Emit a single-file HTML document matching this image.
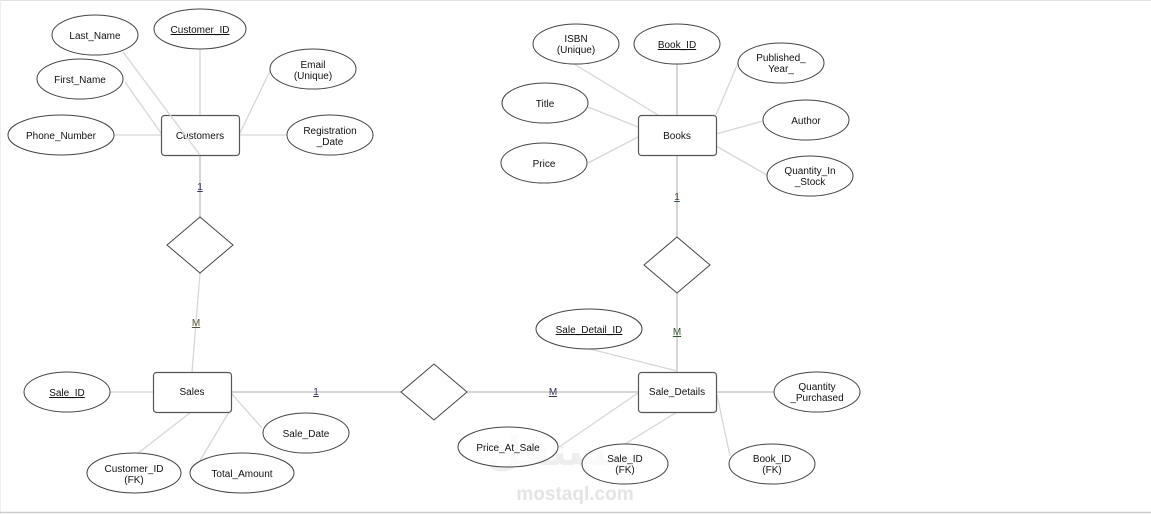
<!DOCTYPE html>
<html><head><meta charset="utf-8"><style>
html,body{margin:0;padding:0;background:#fff;width:1151px;height:514px;overflow:hidden}
svg{display:block}
text{font-family:"Liberation Sans","DejaVu Sans",sans-serif;font-size:10px;fill:#111;text-anchor:middle}
.l{stroke:#d6d6d6;stroke-width:1.3;fill:none}
.e{fill:#fff;stroke:#444;stroke-width:1}
.r{fill:#fff;stroke:#555;stroke-width:1.2}
.u{text-decoration:underline}
</style></head><body>
<svg width="1151" height="514" viewBox="0 0 1151 514">
<line x1="0" y1="0.5" x2="1151" y2="0.5" stroke="#e2e2e2"/>
<line x1="0.5" y1="0" x2="0.5" y2="514" stroke="#eee"/>
<line x1="0" y1="512.5" x2="1151" y2="512.5" stroke="#ccc" stroke-width="1.5"/>
<g class="l">
<line x1="125" y1="82" x2="161" y2="133"/>
<line x1="200" y1="49" x2="200" y2="115"/>
<line x1="270" y1="71" x2="240" y2="133"/>
<line x1="114" y1="135" x2="161" y2="135"/>
<line x1="240" y1="135" x2="287" y2="135"/>
<line x1="200" y1="155" x2="200" y2="217" stroke-width="2"/>
<line x1="200" y1="273" x2="192" y2="372"/>
<line x1="110" y1="392" x2="153" y2="392"/>
<line x1="137" y1="454" x2="191" y2="412"/>
<line x1="198" y1="464" x2="229" y2="412"/>
<line x1="231" y1="393" x2="262" y2="428"/>
<line x1="231" y1="392" x2="401" y2="392" stroke-width="2"/>
<line x1="467" y1="392" x2="638" y2="392" stroke-width="2"/>
<line x1="590" y1="349" x2="677" y2="371"/>
<line x1="716" y1="392" x2="774" y2="392" stroke-width="2"/>
<line x1="559" y1="447" x2="638" y2="393"/>
<line x1="625" y1="444" x2="677" y2="412"/>
<line x1="717" y1="395" x2="730" y2="456"/>
<line x1="677" y1="372" x2="677" y2="293" stroke-width="2"/>
<line x1="677" y1="237" x2="677" y2="155" stroke-width="2"/>
<line x1="574" y1="64" x2="658" y2="115"/>
<line x1="677" y1="64" x2="677" y2="115" stroke-width="2"/>
<line x1="738" y1="63" x2="716" y2="115"/>
<line x1="588" y1="107" x2="638" y2="127"/>
<line x1="763" y1="121" x2="716" y2="134"/>
<line x1="588" y1="163" x2="638" y2="137"/>
<line x1="767" y1="175" x2="716" y2="146"/>
</g>
<text x="200" y="190" class="u" style="fill:#335">1</text>
<text x="196" y="326" class="u" style="fill:#553">M</text>
<text x="316" y="395" class="u" style="fill:#335">1</text>
<text x="553" y="395" class="u" style="fill:#335">M</text>
<text x="677" y="335" class="u" style="fill:#353">M</text>
<text x="677" y="200" class="u" style="fill:#353">1</text>
<polygon class="e" points="167,245 200,217 233,245 200,273"/>
<polygon class="e" points="401,392 434,364 467,392 434,420"/>
<polygon class="e" points="644,265 677,237 710,265 677,293"/>
<rect class="r" x="161.5" y="115.5" width="78" height="40" rx="3"/><text x="200" y="139">Customers</text>
<line class="l" x1="123" y1="52" x2="200" y2="155"/>
<rect class="r" x="153.5" y="372.5" width="78" height="40" rx="3"/><text x="192" y="395">Sales</text>
<rect class="r" x="638.5" y="372.5" width="78" height="40" rx="3"/><text x="677" y="395">Sale_Details</text>
<rect class="r" x="638.5" y="115.5" width="78" height="40" rx="3"/><text x="677" y="139">Books</text>
<ellipse class="e" cx="200" cy="29" rx="46" ry="20"/><text x="200" y="33" class="u">Customer_ID</text>
<ellipse class="e" cx="95" cy="35" rx="43" ry="20"/><text x="95" y="39">Last_Name</text>
<ellipse class="e" cx="80" cy="79" rx="43" ry="20"/><text x="80" y="83">First_Name</text>
<ellipse class="e" cx="61" cy="135" rx="53" ry="20"/><text x="61" y="139">Phone_Number</text>
<ellipse class="e" cx="313" cy="69" rx="43" ry="20"/><text x="313" y="68">Email</text><text x="313" y="79">(Unique)</text>
<ellipse class="e" cx="330" cy="135" rx="43" ry="20"/><text x="330" y="134">Registration</text><text x="330" y="145">_Date</text>
<ellipse class="e" cx="67" cy="392" rx="43" ry="20"/><text x="67" y="396" class="u">Sale_ID</text>
<ellipse class="e" cx="134" cy="473" rx="47" ry="20"/><text x="134" y="472">Customer_ID</text><text x="134" y="483">(FK)</text>
<ellipse class="e" cx="242" cy="473" rx="52" ry="20"/><text x="242" y="477">Total_Amount</text>
<ellipse class="e" cx="306" cy="433" rx="43" ry="20"/><text x="306" y="437">Sale_Date</text>
<ellipse class="e" cx="589" cy="329" rx="53" ry="20"/><text x="589" y="333" class="u">Sale_Detail_ID</text>
<ellipse class="e" cx="817" cy="392" rx="43" ry="20"/><text x="817" y="390">Quantity</text><text x="817" y="401">_Purchased</text>
<text x="560" y="465" style="font-size:40px;fill:#eeeeee;font-weight:bold;font-family:'DejaVu Sans',sans-serif">مستقل</text>
<ellipse class="e" cx="508" cy="447" rx="50" ry="20" style="fill-opacity:0.7"/><text x="508" y="451">Price_At_Sale</text>
<ellipse class="e" cx="625" cy="464" rx="43" ry="20" style="fill-opacity:0.7"/><text x="625" y="462">Sale_ID</text><text x="625" y="473">(FK)</text>
<text x="575" y="500" style="font-size:19px;fill:#e4e4e4;font-weight:bold">mostaql.com</text>
<ellipse class="e" cx="772" cy="464" rx="43" ry="20"/><text x="772" y="462">Book_ID</text><text x="772" y="473">(FK)</text>
<ellipse class="e" cx="576" cy="44" rx="43" ry="20"/><text x="576" y="42">ISBN</text><text x="576" y="53">(Unique)</text>
<ellipse class="e" cx="677" cy="44" rx="43" ry="20"/><text x="677" y="48" class="u">Book_ID</text>
<ellipse class="e" cx="781" cy="63" rx="43" ry="20"/><text x="781" y="61">Published_</text><text x="781" y="72">Year_</text>
<ellipse class="e" cx="545" cy="103" rx="43" ry="20"/><text x="545" y="107">Title</text>
<ellipse class="e" cx="806" cy="120" rx="43" ry="20"/><text x="806" y="124">Author</text>
<ellipse class="e" cx="544" cy="163" rx="43" ry="20"/><text x="544" y="167">Price</text>
<ellipse class="e" cx="810" cy="176" rx="43" ry="20"/><text x="810" y="174">Quantity_In</text><text x="810" y="185">_Stock</text>
</svg>
</body></html>
